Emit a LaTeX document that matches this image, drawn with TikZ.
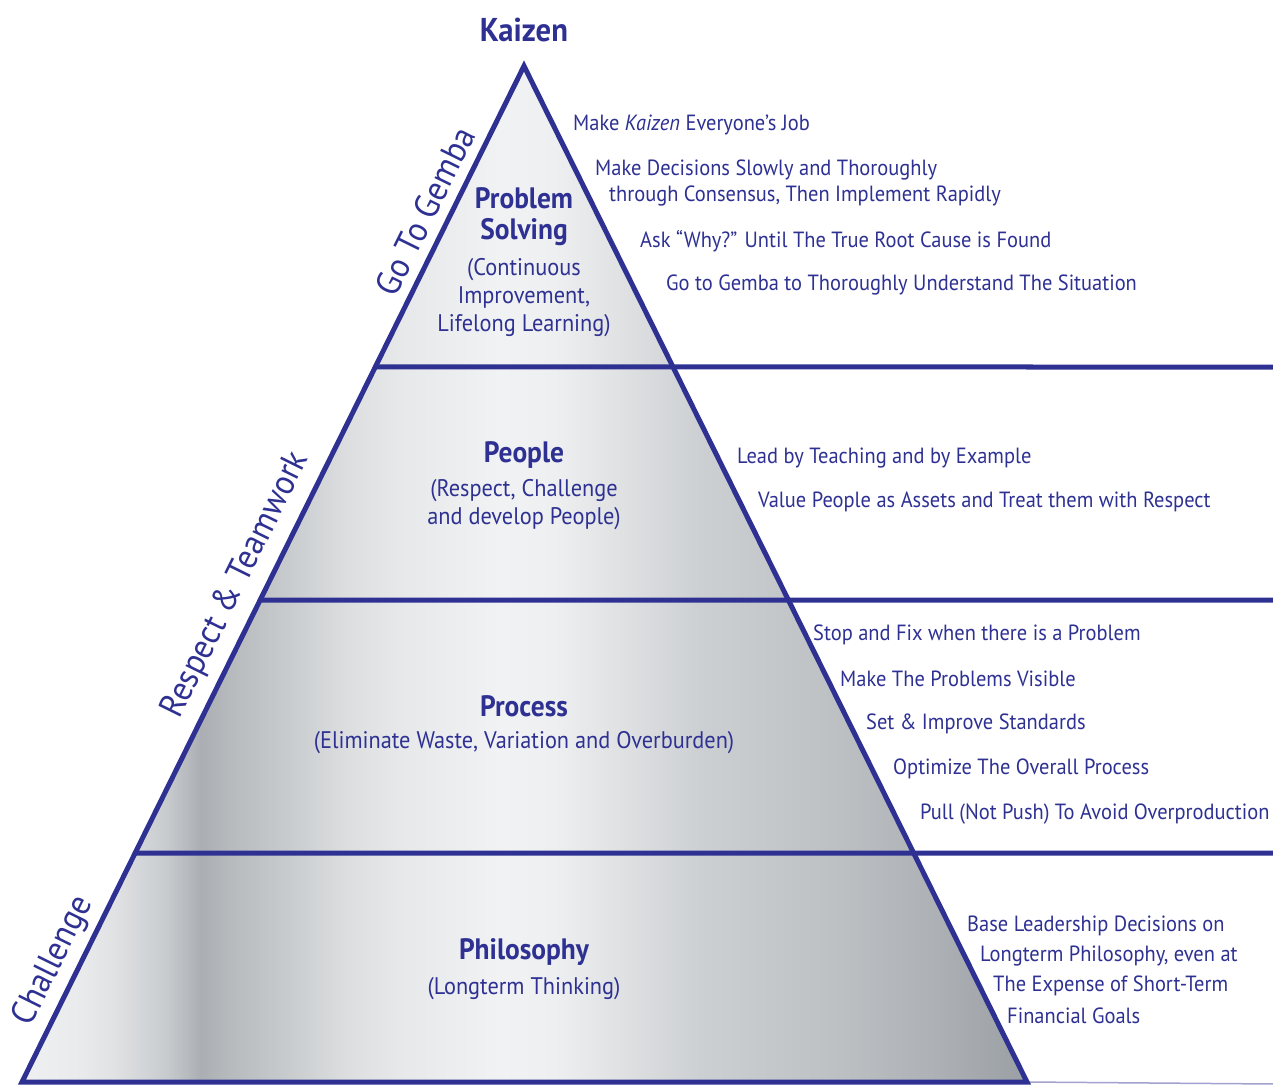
\documentclass[tikz,border=0pt]{standalone}
\usepackage{fontspec}
\setmainfont{PT Sans}[FakeStretch=0.93]
\usetikzlibrary{calc}
\definecolor{navy}{RGB}{46,49,146}
\definecolor{sa}{HTML}{EFF0F2}
\definecolor{sb}{HTML}{E8EAEC}
\definecolor{sc}{HTML}{DFE1E3}
\definecolor{sd}{HTML}{C8CBCE}
\definecolor{se}{HTML}{ABAFB3}
\definecolor{sf}{HTML}{B6BABD}
\definecolor{sg}{HTML}{C9CCCE}
\definecolor{sh}{HTML}{DCDEE0}
\definecolor{si}{HTML}{E7E8EA}
\definecolor{sj}{HTML}{F1F2F3}
\definecolor{sk}{HTML}{EEEFF0}
\definecolor{sl}{HTML}{DFE1E3}
\definecolor{sm}{HTML}{CDD0D3}
\definecolor{sn}{HTML}{BCC0C3}
\definecolor{so}{HTML}{AEB2B6}
\definecolor{sp}{HTML}{9A9FA4}
\pgfdeclarehorizontalshading{pyrshade}{100bp}{color(0bp)=(sa); color(25bp)=(sa);
  color(28bp)=(sb); color(29.7bp)=(sc); color(32.2bp)=(sd); color(33.9bp)=(se);
  color(35.3bp)=(sf); color(38.3bp)=(sg); color(41.2bp)=(sh); color(43.8bp)=(si);
  color(48.8bp)=(sj); color(51.5bp)=(sk); color(54.8bp)=(sl); color(58.7bp)=(sm);
  color(65.7bp)=(sn); color(70.2bp)=(so); color(75bp)=(sp); color(100bp)=(sp)}

\begin{document}
\begin{tikzpicture}[x=1pt,y=-1pt,
    edge/.style={draw=navy,line width=5pt},
    title/.style={text=navy,font=\bfseries\fontsize{29.5}{31}\selectfont,align=center},
    sub/.style={text=navy,font=\fontsize{24}{28}\selectfont,align=center},
    item/.style={text=navy,font=\fontsize{22}{26}\selectfont,anchor=west,inner sep=0pt},
    side/.style={text=navy,font=\fontsize{35}{38}\selectfont,rotate=63.7}]
  \useasboundingbox (0,0) rectangle (1273,1086);

  \coordinate (apex) at (524,66);
  \coordinate (baseL) at (22,1082);
  \coordinate (baseR) at (1027,1082);
  \shade[shading=pyrshade] (apex) -- (baseL) -- (baseR) -- cycle;

  \foreach \y/\n in {367/a,600/b,853/c} {
    \coordinate (L\n) at ($(apex)!{(\y-66)/1016}!(baseL)$);
    \coordinate (R\n) at (1275,\y);
    \draw[edge] (L\n) -- (R\n);
  }
  \coordinate (baseEnd) at (1275,1084);
  \draw[navy!45,line width=1.5pt] (baseR) -- (baseEnd);
  \draw[edge,line join=miter] (apex) -- (baseL) -- (baseR) -- cycle;

  \node[text=navy,font=\bfseries\fontsize{33}{36}\selectfont] (kaizen) at (524,30) {Kaizen};

  \node[side] (gemba) at (425,211) {Go To Gemba};
  \node[side] (respect) at (236,585) {Respect \& Teamwork};
  \node[side] (challenge) at (54,961) {Challenge};

  \node[title] (solving) at (524,217) {Problem\\Solving};
  \node[sub] (solvingSub) at (524,298) {(Continuous\\Improvement,\\Lifelong Learning)};
  \node[title] (people) at (524,455) {People};
  \node[sub] (peopleSub) at (524,505) {(Respect, Challenge\\and develop People)};
  \node[title] (process) at (524,706) {Process};
  \node[sub] (processSub) at (524,743) {(Eliminate Waste, Variation and Overburden)};
  \node[title] (philosophy) at (524,952) {Philosophy};
  \node[sub] (philosophySub) at (524,989) {(Longterm Thinking)};

  \node[item] (i1) at (573,125) {Make \textit{Kaizen} Everyone’s Job};
  \node[item] (i2) at (595,170) {Make Decisions Slowly and Thoroughly};
  \node[item] (i2b) at (609,196) {through Consensus, Then Implement Rapidly};
  \node[item] (i3) at (640,241) {Ask “Why?” Until The True Root Cause is Found};
  \node[item] (i4) at (666,285) {Go to Gemba to Thoroughly Understand The Situation};
  \node[item] (i5) at (737,458) {Lead by Teaching and by Example};
  \node[item] (i6) at (758,502) {Value People as Assets and Treat them with Respect};
  \node[item] (i7) at (813,635) {Stop and Fix when there is a Problem};
  \node[item] (i8) at (840,679) {Make The Problems Visible};
  \node[item] (i9) at (866,724) {Set \& Improve Standards};
  \node[item] (i10) at (893,769) {Optimize The Overall Process};
  \node[item] (i11) at (920,814) {Pull (Not Push) To Avoid Overproduction};
  \node[item] (i12) at (967,926) {Base Leadership Decisions on};
  \node[item] (i12b) at (980,956) {Longterm Philosophy, even at};
  \node[item] (i12c) at (993,986) {The Expense of Short-Term};
  \node[item] (i12d) at (1007,1016) {Financial Goals};
\end{tikzpicture}
\end{document}
